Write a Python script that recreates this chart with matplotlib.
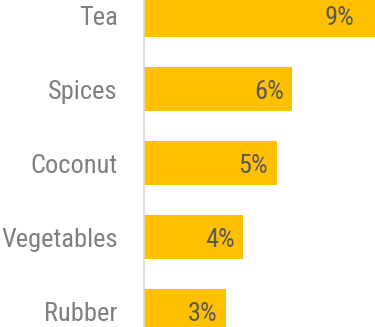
import matplotlib
matplotlib.use("Agg")
import matplotlib.pyplot as plt

crops = ["Rubber", "Vegetables", "Coconut", "Spices", "Tea"]
shares = [3.2, 3.9, 5.2, 5.8, 9.3]  # percent of export earnings

BAR_COLOR = "#FFC000"
LABEL_GRAY = "#7F7F7F"
VALUE_GRAY = "#595959"

plt.rcParams["font.family"] = ["Roboto Condensed", "DejaVu Sans"]

fig = plt.figure(figsize=(3.75, 3.27), dpi=100)
ax = fig.add_axes([144 / 375, 0, 231 / 375, 1])

pos = list(range(len(crops)))
ax.barh(pos, shares, height=0.59, color=BAR_COLOR, zorder=2)

xmax = 9.06
ax.set_xlim(0, xmax)
ax.set_ylim(-0.216, 4.203)

# value labels sit inside the end of each bar, kept within the plot area
for y, v in zip(pos, shares):
    ax.annotate(f"{v:.0f}%", (min(v, xmax - 0.5), y), xytext=(-6, -2),
                textcoords="offset points", ha="right", va="center",
                fontsize=19, color=VALUE_GRAY, zorder=3)

ax.set_yticks(pos)
ax.set_yticklabels(crops, fontsize=19, color=LABEL_GRAY)
ax.tick_params(axis="y", length=0, pad=19)
ax.set_xticks([])

for side in ("top", "right", "bottom"):
    ax.spines[side].set_visible(False)
ax.spines["left"].set_color("#D9D9D9")
ax.spines["left"].set_linewidth(1.2)
ax.spines["left"].set_zorder(3)

fig.savefig("out.png", dpi=100)
